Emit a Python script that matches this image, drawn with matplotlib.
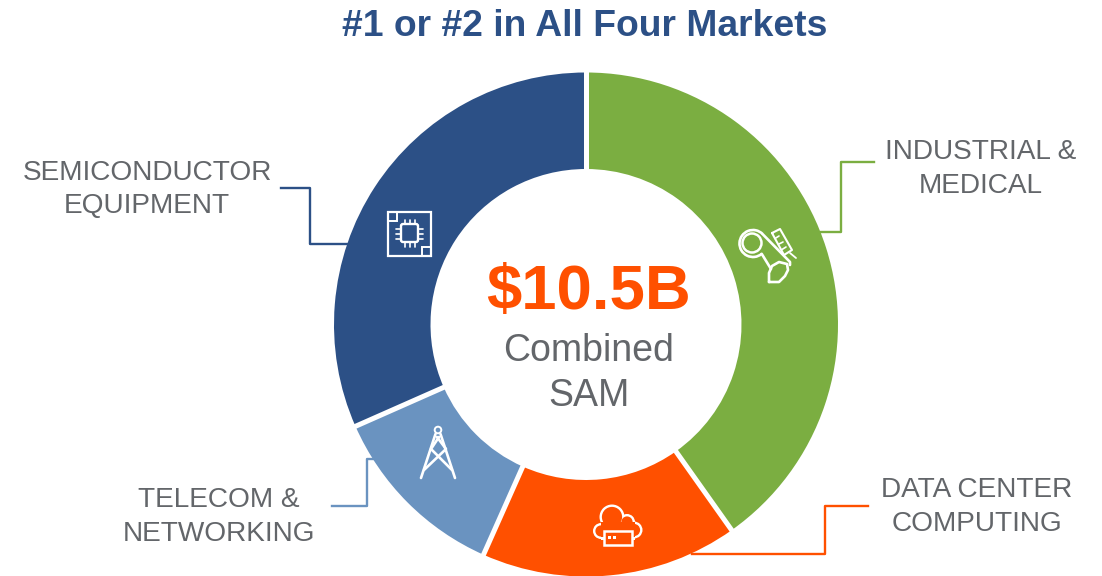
"""Donut of the four served markets, drawn on a pixel-sized canvas so labels and icons sit by eye."""
import matplotlib
matplotlib.use("Agg")
import matplotlib.pyplot as plt
import numpy as np
from matplotlib.patches import Arc, Circle, FancyBboxPatch, Rectangle, Wedge

W, H = 1102, 576
NAVY, GREEN, ORANGE, BLUE, GREY = "#2c5086", "#7bae41", "#ff5000", "#6a93c0", "#63666a"

# clockwise from 12 o'clock, $B of SAM
markets = ["INDUSTRIAL &\nMEDICAL", "DATA CENTER\nCOMPUTING", "TELECOM &\nNETWORKING", "SEMICONDUCTOR\nEQUIPMENT"]
sam_values = [4.22, 1.73, 1.23, 3.32]
slice_colors = [GREEN, ORANGE, BLUE, NAVY]

plt.rcParams["font.family"] = ["Liberation Sans", "DejaVu Sans"]
fig = plt.figure(figsize=(W / 100, H / 100), dpi=100)
ax = fig.add_axes([0, 0, 1, 1])
ax.set_xlim(0, W); ax.set_ylim(H, 0); ax.axis("off")

CX, CY, R_OUT, R_IN = 586, 324.5, 252, 155.5

# y axis is flipped, so matplotlib angles already run clockwise on screen
start = -90.0
total = sum(sam_values)
for val, col in zip(sam_values, slice_colors):
    sweep = 360 * val / total
    ax.add_patch(Wedge((CX, CY), R_OUT, start, start + sweep, width=R_OUT - R_IN, fc=col, ec="none"))
    start += sweep
# white gaps between slices, no outline on the rim
start = -90.0
for val in sam_values:
    t = np.deg2rad(start)
    ax.plot([CX + (R_IN - 2) * np.cos(t), CX + (R_OUT + 2) * np.cos(t)],
            [CY + (R_IN - 2) * np.sin(t), CY + (R_OUT + 2) * np.sin(t)],
            color="white", lw=3.6, solid_capstyle="butt")
    start += 360 * val / total

# centre text
ax.text(589, 293, "$10.5B", ha="center", va="center", fontsize=45.7, fontweight="bold", color=ORANGE)
ax.text(589, 351, "Combined", ha="center", va="center", fontsize=27, color=GREY)
ax.text(589, 396, "SAM", ha="center", va="center", fontsize=27, color=GREY)
ax.text(585, 26, "#1 or #2 in All Four Markets", ha="center", va="center", fontsize=26.8,
        fontweight="bold", color=NAVY)

# outer labels + leader lines
lab = dict(ha="center", va="center", fontsize=20.2, color=GREY, linespacing=1.37)
ax.text(981, 169, markets[0], **lab)
ax.text(977, 507, markets[1], **lab)
ax.text(219, 517, markets[2], **lab)
ax.text(147, 189.5, markets[3], **lab)
ax.plot([874, 841, 841, 821], [162, 162, 232, 232], color=GREEN, lw=1.7)
ax.plot([868, 825, 825, 692], [506, 506, 554, 554], color=ORANGE, lw=1.7)
ax.plot([332, 367, 367, 375], [506, 506, 459, 459], color=BLUE, lw=1.7)
ax.plot([281, 310, 310, 349], [188, 188, 244, 244], color=NAVY, lw=1.7)


def line(xs, ys, lw=1.9):
    ax.plot(xs, ys, color="white", lw=lw, solid_capstyle="round", solid_joinstyle="round")


# chip icon
ax.add_patch(Rectangle((388, 212), 43, 44, fc="none", ec="white", lw=1.6))
ax.add_patch(Rectangle((388, 212), 9, 9, fc="none", ec="white", lw=1.4))
ax.add_patch(Rectangle((422, 247), 9, 9, fc="none", ec="white", lw=1.4))
ax.add_patch(FancyBboxPatch((401, 224), 17, 18, boxstyle="round,pad=0,rounding_size=2",
                            fc="none", ec="white", lw=1.7))
for off in (4, 9, 14):
    line([401 + off, 401 + off], [219.5, 224], 1.2)
    line([401 + off, 401 + off], [242, 246.5], 1.2)
    line([396, 401], [224.5 + off, 224.5 + off], 1.2)
    line([418, 423], [224.5 + off, 224.5 + off], 1.2)

# robot arm + syringe icon
ax.add_patch(Circle((752, 243), 9.5, fc="none", ec="white", lw=1.8))
ax.add_patch(Arc((753, 243.5), 27, 27, theta1=50, theta2=315, ec="white", lw=1.9))
line([762.5, 790, 790], [234, 262, 265])
line([761.7, 771], [253.8, 269])
line([769, 769, 772, 779, 787, 788, 785, 779, 769], [282, 273, 266, 262, 264, 270, 276, 282, 282])
line([772, 780, 792, 784, 772], [233, 229, 250, 255, 233], 1.5)
line([775, 779], [238.5, 236], 1.2)
line([779, 783], [244, 242], 1.2)
line([782, 786], [249.5, 247], 1.2)
line([790, 796], [253, 258], 1.3)

# tower icon
ax.add_patch(Circle((438, 430), 3.3, fc="none", ec="white", lw=1.4))
line([435.5, 421], [434, 478])
line([440.5, 455], [434, 478])
line([437, 446, 424], [437, 449, 470])
line([439, 431, 452], [437, 449, 470])

# cloud + server icon: white lobes with orange on top leave just the outline
lobes = [(601, 531, 8), (612, 517, 12.5), (627, 522, 8), (634, 530, 8.5)]
for x, y, r in lobes:
    ax.add_patch(Circle((x, y), r, fc="white", ec="none"))
ax.add_patch(Rectangle((601, 522), 34, 17.5, fc="white", ec="none"))
for x, y, r in lobes:
    ax.add_patch(Circle((x, y), r - 2.4, fc=ORANGE, ec="none"))
ax.add_patch(Rectangle((601, 522), 34, 15.1, fc=ORANGE, ec="none"))
ax.add_patch(Rectangle((604, 531), 28, 14, fc=ORANGE, ec="white", lw=1.8))
ax.add_patch(Rectangle((608, 536), 2.5, 2.5, fc="white", ec="none"))
ax.add_patch(Rectangle((613, 536), 2.5, 2.5, fc="white", ec="none"))

fig.savefig("out.png", dpi=100)
